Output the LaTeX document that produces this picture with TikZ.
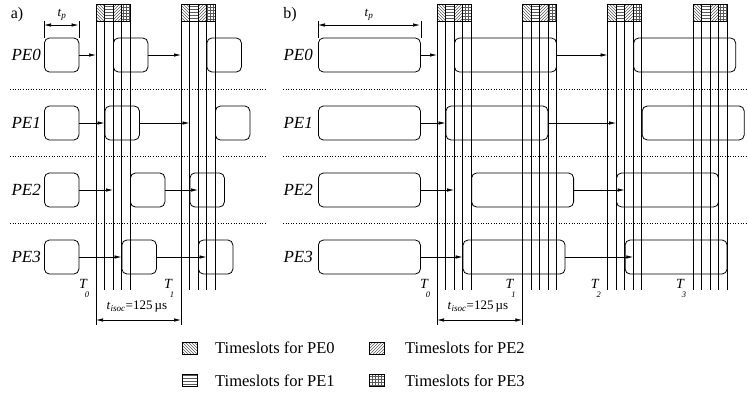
\documentclass[tikz,border=0pt]{standalone}
\usepackage{fontspec}
\setmainfont{Liberation Serif}
\usetikzlibrary{arrows.meta,patterns}
\begin{document}
\begin{tikzpicture}[x=1pt,y=-1pt,
  pebox/.style={draw,rounded corners=5pt,line width=0.8pt,inner sep=0pt,minimum height=34pt,anchor=west},
  boxa/.style={pebox,minimum width=34.5pt},
  boxb/.style={pebox,minimum width=102pt},
  arr/.style={-{Latex[length=7pt,width=3.5pt]},line width=0.7pt},
  dim/.style={{Latex[length=7pt,width=3.5pt]}-{Latex[length=7pt,width=3.5pt]},line width=0.7pt},
  tline/.style={line width=0.7pt},
  sep/.style={dotted,line width=0.6pt},
  hatch/.style={pattern=#1,pattern color=black!65},
  pelab/.style={font=\fontsize{17}{20}\selectfont\itshape,anchor=east,inner sep=0pt},
  panlab/.style={font=\fontsize{16}{18}\selectfont,inner sep=0pt},
  dimlab/.style={font=\fontsize{13}{15}\selectfont,inner sep=0pt},
  tlab/.style={font=\fontsize{14}{16}\selectfont\itshape,inner sep=0pt,anchor=base west},
  leg/.style={font=\fontsize{16.5}{19}\selectfont,anchor=west,inner sep=0pt},
  swatch/.style={draw,line width=0.5pt,minimum width=15pt,minimum height=12pt,inner sep=0pt}
]
\useasboundingbox (0,0) rectangle (748,397);

% panel labels
\node[panlab] (la) at (17,15) {a)};
\node[panlab] (lb) at (290,15) {b)};

% separators
\foreach \yy in {89,156,223}{
  \draw[sep] (10,\yy) -- (267,\yy);
  \draw[sep] (283,\yy) -- (748,\yy);
}

% timeslot groups
\foreach \nm/\xx/\dx/\yb in {A0/96/8.5/325,A1/181/8.5/325,B0/437/8.55/325,B1/522.3/8.55/325,B2/607.6/8.55/290,B3/692.9/8.55/290}{
  \foreach \k in {0,...,4}{
    \coordinate (\nm-\k-t) at ({\xx+\k*\dx},4);
    \coordinate (\nm-\k-b) at ({\xx+\k*\dx},21);
  }
  \foreach \k/\kk/\pat in {0/1/north west lines,1/2/horizontal lines,2/3/north east lines,3/4/grid}{
    \path[hatch=\pat] (\nm-\k-t) rectangle (\nm-\kk-b);
  }
  \draw[tline] (\nm-0-t) -- (\nm-4-t) (\nm-0-b) -- (\nm-4-b);
  \draw[tline] (\nm-0-t) -- (\xx,\yb);
  \foreach \k in {1,...,4}{ \draw[tline] (\nm-\k-t) -- ++(0,286); }
}

% T labels
\node[tlab] (TA0) at (79,288) {T\hspace{-2pt}\raisebox{-9pt}{\fontsize{8.5}{9}\selectfont 0}};
\node[tlab] (TA1) at (164,288) {T\hspace{-2pt}\raisebox{-9pt}{\fontsize{8.5}{9}\selectfont 1}};
\node[tlab] (TB0) at (420,288) {T\hspace{-2pt}\raisebox{-9pt}{\fontsize{8.5}{9}\selectfont 0}};
\node[tlab] (TB1) at (505.3,288) {T\hspace{-2pt}\raisebox{-9pt}{\fontsize{8.5}{9}\selectfont 1}};
\node[tlab] (TB2) at (590.6,288) {T\hspace{-2pt}\raisebox{-9pt}{\fontsize{8.5}{9}\selectfont 2}};
\node[tlab] (TB3) at (675.9,288) {T\hspace{-2pt}\raisebox{-9pt}{\fontsize{8.5}{9}\selectfont 3}};

% t_isoc dimensions
\coordinate (dA0) at (96,320);
\coordinate (dA1) at (181,320);
\draw[dim] (dA0) -- (dA1);
\node[dimlab] (isoA) at (137,307) {\textit{t}\textsubscript{\textit{isoc}}=125\,µs};
\coordinate (dB0) at (437,320);
\coordinate (dB1) at (522.3,320);
\draw[dim] (dB0) -- (dB1);
\node[dimlab] (isoB) at (478,307) {\textit{t}\textsubscript{\textit{isoc}}=125\,µs};

% panel a rows
\foreach \i/\yy/\ka/\kb in {0/55/2/3,1/123/1/4,2/190/4/1,3/257/3/2}{
  \node[pelab] (la\i) at (41,\yy) {PE\i};
  \node[boxa] (pa\i-1) at (44,\yy) {};
  \pgfmathsetmacro\xa{96+\ka*8.5}
  \pgfmathsetmacro\xb{181+\kb*8.5}
  \pgfmathsetmacro\ta{96+\i*8.5}
  \pgfmathsetmacro\tb{181+\i*8.5}
  \node[boxa] (pa\i-2) at (\xa,\yy) {};
  \node[boxa] (pa\i-3) at (\xb,\yy) {};
  \coordinate (ea\i-1) at (\ta,\yy);
  \coordinate (ea\i-2) at (\tb,\yy);
  \draw[arr] (pa\i-1.east) -- (ea\i-1);
  \draw[arr] (pa\i-2.east) -- (ea\i-2);
}

% panel b rows
\foreach \i/\yy/\ka/\kb in {0/55/2/3,1/123/1/4,2/190/4/1,3/257/3/2}{
  \node[pelab] (lb\i) at (313,\yy) {PE\i};
  \node[boxb] (pb\i-1) at (318,\yy) {};
  \pgfmathsetmacro\xa{437+\ka*8.55}
  \pgfmathsetmacro\xb{607.6+\kb*8.55}
  \pgfmathsetmacro\ta{437+\i*8.55}
  \pgfmathsetmacro\tb{607.6+\i*8.55}
  \node[boxb] (pb\i-2) at (\xa,\yy) {};
  \node[boxb] (pb\i-3) at (\xb,\yy) {};
  \coordinate (eb\i-1) at (\ta,\yy);
  \coordinate (eb\i-2) at (\tb,\yy);
  \draw[arr] (pb\i-1.east) -- (eb\i-1);
  \draw[arr] (pb\i-2.east) -- (eb\i-2);
}

% t_p dimensions
\draw[line width=0.6pt] (pa0-1.north west) -- ++(0,-17) (pa0-1.north east) -- ++(0,-17);
\coordinate (tpa1) at (44,25);
\coordinate (tpa2) at (78.5,25);
\draw[dim] (tpa1) -- (tpa2);
\node[dimlab] (tpA) at (62,15) {\textit{t}\textsubscript{\textit{p}}};
\draw[line width=0.6pt] (pb0-1.north west) -- ++(0,-17) (pb0-1.north east) -- ++(0,-17);
\coordinate (tpb1) at (318,25);
\coordinate (tpb2) at (420,25);
\draw[dim] (tpb1) -- (tpb2);
\node[dimlab] (tpB) at (369,15) {\textit{t}\textsubscript{\textit{p}}};

% legend
\node[swatch,hatch=north west lines] (s0) at (190,348) {};
\node[leg] (l0) at (215,348) {Timeslots for PE0};
\node[swatch,hatch=horizontal lines] (s1) at (190,380.5) {};
\node[leg] (l1) at (215,380.5) {Timeslots for PE1};
\node[swatch,hatch=north east lines] (s2) at (377,348) {};
\node[leg] (l2) at (405,348) {Timeslots for PE2};
\node[swatch,hatch=grid] (s3) at (377,380.5) {};
\node[leg] (l3) at (405,380.5) {Timeslots for PE3};
\end{tikzpicture}
\end{document}
